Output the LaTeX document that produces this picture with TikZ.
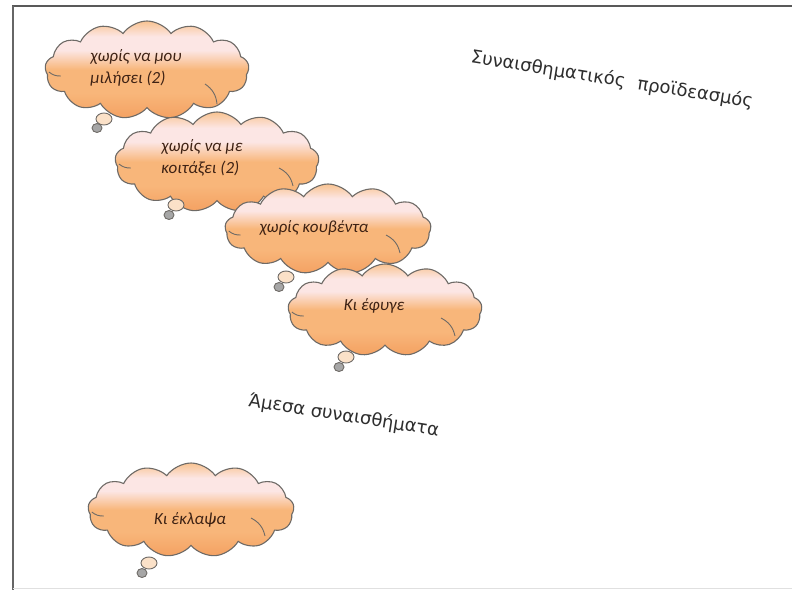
\documentclass[tikz,border=0pt]{standalone}
\usepackage{fontspec}
\setmainfont{Carlito}
\newfontfamily\handfont{DejaVu Sans}
\usetikzlibrary{shapes.symbols,shapes.geometric,calc}
\definecolor{cloudline}{HTML}{6E6A66}
\definecolor{cbot}{HTML}{F4A162}
\definecolor{cmid}{HTML}{F8B67A}
\definecolor{cpink}{HTML}{FCE6E4}
\definecolor{ctop}{HTML}{F8C391}
\definecolor{textcol}{HTML}{3E2214}
\pgfdeclareverticalshading{cloudshade}{100bp}{%
  color(0bp)=(cbot); color(25bp)=(cbot); color(38bp)=(cmid); color(50bp)=(cmid);
  color(60bp)=(cpink); color(67bp)=(cpink); color(75bp)=(ctop); color(100bp)=(ctop)}
\tikzset{
  thought/.style={cloud, cloud puffs=13, cloud puff arc=110, aspect=2.1,
    draw=cloudline, line width=1.1pt, shading=cloudshade, inner sep=0pt},
  bubble/.style={ellipse, draw=cloudline, line width=0.9pt, fill=#1, inner sep=0pt},
  cloudtext/.style={font=\fontsize{17}{22}\selectfont\itshape, text=textcol, align=left},
  handtext/.style={font=\handfont\fontsize{18}{21}\selectfont, text=black!82, rotate=-9},
  innerarc/.style={draw=cloudline, line width=0.9pt}
}
\begin{document}
\begin{tikzpicture}[x=1pt,y=-1pt]
\useasboundingbox (0,0) rectangle (792,590);
\fill[white] (0,0) rectangle (792,590);
% frame
\draw[draw=black!65, line width=2pt] (12,6) coordinate (f1) -- (792,6) coordinate (f2);
\draw[draw=black!60, line width=2pt] (13,6) coordinate (f3) -- (13,590) coordinate (f4);
\draw[draw=black!12, line width=1pt] (13,588.5) coordinate (f5) -- (792,588.5) coordinate (f6);

% cloud 1
\node[thought, minimum width=204pt, minimum height=98pt] (c1) at (147,70) {};
\draw[innerarc] ($(c1.center)+(58,14)$) to[bend left=25] ($(c1.center)+(70,34)$);
\draw[innerarc] ($(c1.west)+(4,2)$) to[bend right=20] ($(c1.west)+(16,6)$);
\node[bubble=ctop!50, minimum width=16pt, minimum height=12pt] (t1a) at (104,119) {};
\node[bubble=black!35, minimum width=10pt, minimum height=9pt] (t1b) at (97,128) {};
\node[cloudtext] (x1) at (136,68) {χωρίς να μου\\μιλήσει (2)};

% cloud 2
\node[thought, minimum width=204pt, minimum height=100pt] (c2) at (217,162) {};
\draw[innerarc] ($(c2.center)+(62,6)$) to[bend left=25] ($(c2.center)+(76,24)$);
\draw[innerarc] ($(c2.west)+(4,2)$) to[bend right=20] ($(c2.west)+(16,6)$);
\node[bubble=ctop!50, minimum width=16pt, minimum height=12pt] (t2a) at (176,205) {};
\node[bubble=black!35, minimum width=10pt, minimum height=9pt] (t2b) at (169,215) {};
\node[cloudtext, align=left] (x2) at (202,158) {χωρίς να με\\κοιτάξει (2)};

% cloud 3
\node[thought, minimum width=206pt, minimum height=90pt] (c3) at (328,229) {};
\draw[innerarc] ($(c3.center)+(58,6)$) to[bend left=25] ($(c3.center)+(72,24)$);
\draw[innerarc] ($(c3.west)+(4,2)$) to[bend right=20] ($(c3.west)+(16,6)$);
\node[bubble=ctop!50, minimum width=16pt, minimum height=12pt] (t3a) at (286,277) {};
\node[bubble=black!35, minimum width=10pt, minimum height=9pt] (t3b) at (279,287) {};
\node[cloudtext] (x3) at (314,228) {χωρίς κουβέντα};

% cloud 4
\node[thought, minimum width=194pt, minimum height=92pt] (c4) at (385,310) {};
\draw[innerarc] ($(c4.center)+(56,8)$) to[bend left=25] ($(c4.center)+(70,26)$);
\draw[innerarc] ($(c4.west)+(4,2)$) to[bend right=20] ($(c4.west)+(16,6)$);
\node[bubble=ctop!50, minimum width=16pt, minimum height=12pt] (t4a) at (346,357) {};
\node[bubble=black!35, minimum width=10pt, minimum height=9pt] (t4b) at (339,367) {};
\node[cloudtext] (x4) at (374,306) {Κι έφυγε};

% cloud 5
\node[thought, minimum width=206pt, minimum height=94pt] (c5) at (191,510) {};
\draw[innerarc] ($(c5.center)+(60,8)$) to[bend left=25] ($(c5.center)+(74,26)$);
\draw[innerarc] ($(c5.west)+(4,2)$) to[bend right=20] ($(c5.west)+(16,6)$);
\node[bubble=ctop!50, minimum width=16pt, minimum height=12pt] (t5a) at (149,563) {};
\node[bubble=black!35, minimum width=10pt, minimum height=9pt] (t5b) at (142,573) {};
\node[cloudtext] (x5) at (190,520) {Κι έκλαψα};

% titles
\node[handtext] (h1) at (612,80) {Συναισθηματικός\hspace{0.7em}προϊδεασμός};
\node[handtext] (h2) at (344,416) {Άμεσα συναισθήματα};
\end{tikzpicture}
\end{document}
